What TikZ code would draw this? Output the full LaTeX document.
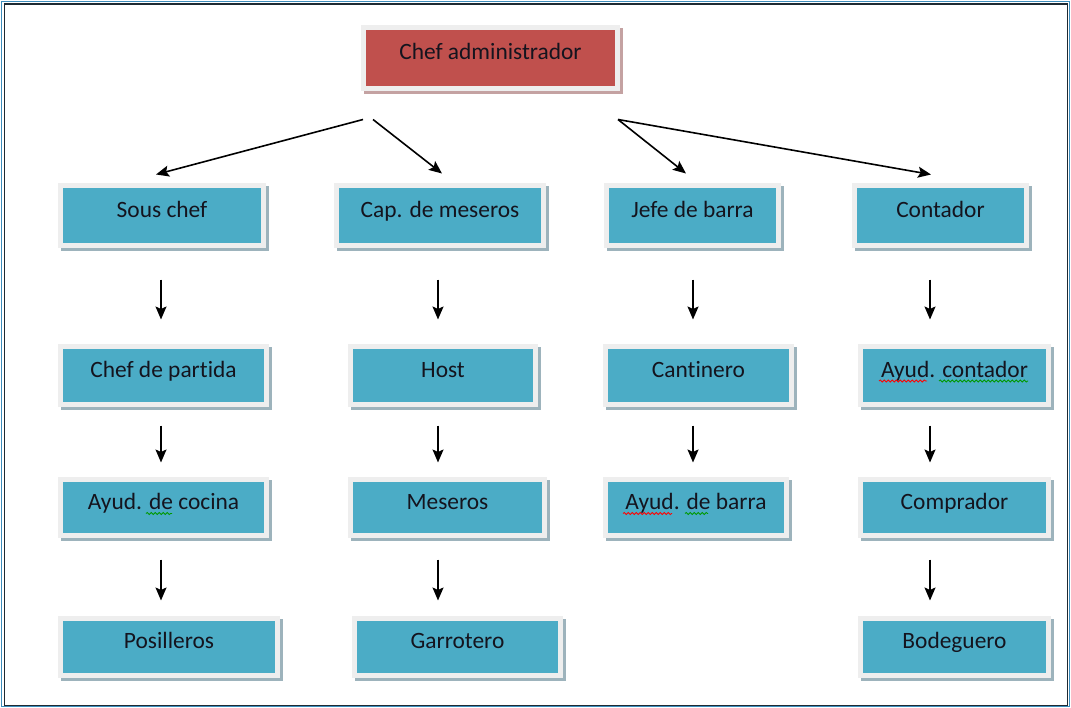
\documentclass[tikz,border=0pt]{standalone}
\usepackage{fontspec}
\setmainfont{Carlito}[Ligatures=NoCommon]
\usetikzlibrary{arrows.meta,calc,decorations.pathmorphing}
\definecolor{boxblue}{HTML}{4BACC6}
\definecolor{boxred}{HTML}{C0504D}
\definecolor{framec}{HTML}{EEEEEE}
\definecolor{shadowb}{HTML}{9DB3BC}
\definecolor{shadowr}{HTML}{C4A2A2}
\definecolor{borderblue}{HTML}{3C8DBC}
\definecolor{borderdark}{HTML}{1E2A33}
\definecolor{txt}{HTML}{14141E}
\begin{document}
\begin{tikzpicture}[x=1bp,y=-1bp,
  orgbox/.style={rectangle, fill=boxblue, draw=framec, line width=5bp, inner sep=0pt,
    text=txt, font=\fontsize{23.5}{26}\selectfont, text height=15bp, text depth=11.5bp,
    align=center,
    preaction={draw=shadowb, line width=5bp, transform canvas={shift={(3bp,-3bp)}}}},
  redbox/.style={orgbox, fill=boxred,
    preaction={draw=shadowr, line width=5bp, transform canvas={shift={(3bp,-3bp)}}}},
  arr/.style={draw=black, line width=1.6bp, -{Stealth[length=13bp,width=11bp,inset=2.5bp]}},
  r12/.style={shorten <=31.5bp, shorten >=24.5bp},
  r23/.style={shorten <=18.5bp, shorten >=14.5bp},
  r34/.style={shorten <=21.5bp, shorten >=15.5bp},
  spell/.style={decorate, decoration={snake, amplitude=1.1bp, segment length=4bp}, line width=0.8bp},
]
\useasboundingbox (0,0) rectangle (1071,708);
\fill[white] (0,0) rectangle (1071,708);
\draw[borderblue, line width=1.5bp] (1.5,1.5) rectangle (1069.5,706.5);
\draw[borderdark, line width=1.5bp] (4.5,3.8) rectangle (1067.5,705.3);

% top
\node[redbox, minimum width=254bp, minimum height=61bp] (chefadm) at (490.5,58) {Chef administrador};

% row 1
\node[orgbox, minimum width=203bp, minimum height=60bp] (souschef)  at (162,215.5)   {Sous chef};
\node[orgbox, minimum width=207bp, minimum height=60bp] (capmes)    at (440,215.5)   {Cap. de meseros};
\node[orgbox, minimum width=172bp, minimum height=60bp] (jefebarra) at (692.5,215.5) {Jefe de barra};
\node[orgbox, minimum width=172bp, minimum height=60bp] (contador)  at (940.5,215.5) {Contador};

% row 2
\node[orgbox, minimum width=205bp, minimum height=58bp] (chefpart)  at (163.5,375.5) {Chef de partida};
\node[orgbox, minimum width=185bp, minimum height=58bp] (host)      at (443,375.5)   {Host};
\node[orgbox, minimum width=186bp, minimum height=58bp] (cantinero) at (698.5,375.5) {Cantinero};
\node[orgbox, minimum width=188bp, minimum height=58bp] (ayudcont)  at (954.5,375.5) {Ayud. contador};

% row 3
\node[orgbox, minimum width=205bp, minimum height=56bp] (ayudcoc)   at (163.5,507.5) {Ayud. de cocina};
\node[orgbox, minimum width=194bp, minimum height=56bp] (meseros)   at (447.5,507.5) {Meseros};
\node[orgbox, minimum width=181bp, minimum height=56bp] (ayudbarra) at (696,507.5)   {Ayud. de barra};
\node[orgbox, minimum width=188bp, minimum height=56bp] (comprador) at (954.5,507.5) {Comprador};

% row 4
\node[orgbox, minimum width=217bp, minimum height=57bp] (posilleros) at (169,647)    {Posilleros};
\node[orgbox, minimum width=206bp, minimum height=57bp] (garrotero)  at (457.5,647)  {Garrotero};
\node[orgbox, minimum width=188bp, minimum height=57bp] (bodeguero)  at (954.5,647)  {Bodeguero};

% top connectors
\coordinate (sL) at ([shift={(-127.5,28.5)}]chefadm.south);
\coordinate (sM) at ([shift={(-117.5,28.5)}]chefadm.south);
\coordinate (sR) at ([shift={(127.5,28.5)}]chefadm.south);
\coordinate (tA) at ([shift={(-6,-8.5)}]souschef.north);
\coordinate (tB) at ([shift={(2,-9.5)}]capmes.north);
\coordinate (tC) at ([shift={(-6.5,-9.5)}]jefebarra.north);
\coordinate (tD) at ([shift={(-9.5,-8.5)}]contador.north);
\draw[arr] (sL) -- (tA);
\draw[arr] (sM) -- (tB);
\draw[arr] (sR) -- (tC);
\draw[arr] (sR) -- (tD);

% column lines
\coordinate (c1) at (161,0);
\coordinate (c2) at (438,0);
\coordinate (c3) at (693,0);
\coordinate (c4) at (930,0);

\draw[arr, r12] (souschef.south -| c1) -- (chefpart.north -| c1);
\draw[arr, r23] (chefpart.south -| c1) -- (ayudcoc.north -| c1);
\draw[arr, r34] (ayudcoc.south -| c1) -- (posilleros.north -| c1);

\draw[arr, r12] (capmes.south -| c2) -- (host.north -| c2);
\draw[arr, r23] (host.south -| c2) -- (meseros.north -| c2);
\draw[arr, r34] (meseros.south -| c2) -- (garrotero.north -| c2);

\draw[arr, r12] (jefebarra.south -| c3) -- (cantinero.north -| c3);
\draw[arr, r23] (cantinero.south -| c3) -- (ayudbarra.north -| c3);

\draw[arr, r12] (contador.south -| c4) -- (ayudcont.north -| c4);
\draw[arr, r23] (ayudcont.south -| c4) -- (comprador.north -| c4);
\draw[arr, r34] (comprador.south -| c4) -- (bodeguero.north -| c4);

% spell-check underlines
\draw[spell, red] (623,513.5) -- (672,513.5);
\draw[spell, green!60!black] (685,513.5) -- (708,513.5);
\draw[spell, red] (879,381) -- (927,381);
\draw[spell, green!60!black] (939,381) -- (1028,381);
\draw[spell, green!60!black] (146,513.5) -- (172,513.5);
\end{tikzpicture}
\end{document}
